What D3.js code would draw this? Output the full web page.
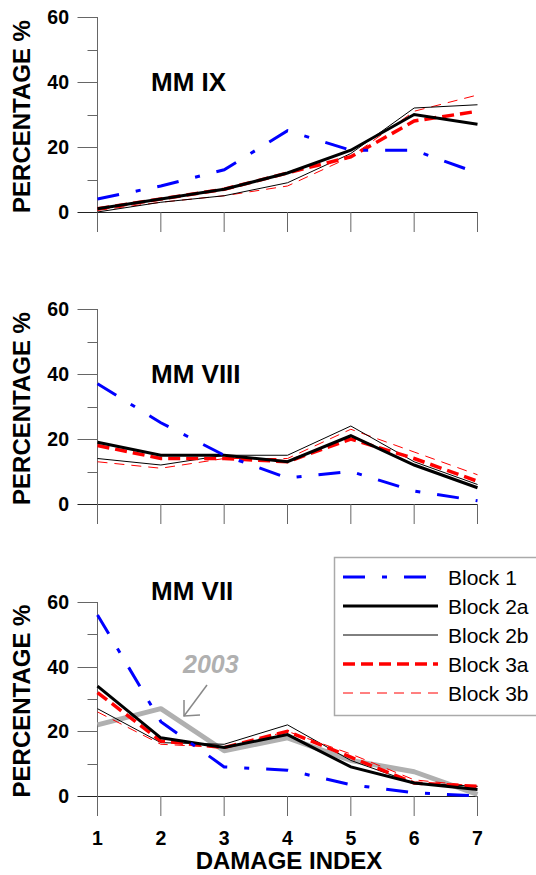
<!DOCTYPE html>
<html>
<head>
<style>
  body { margin: 0; background: #fff; }
  text { font-family: "Liberation Sans", Arial, sans-serif; }
  .panelTitle { font-size: 26px; font-weight: bold; }
  .tickLabel { font-size: 19.5px; font-weight: bold; }
  .axisTitle { font-size: 24px; font-weight: bold; }
  .legendText { font-size: 21px; }
</style>
<script src="https://d3js.org/d3.v7.min.js"></script>
</head>
<body>
<svg width="536" height="875"></svg>
<script>
// x categories and tick values
const damageIndex = [1, 2, 3, 4, 5, 6, 7]
const yMajorTicks = [0, 20, 40, 60]
const yMinorTicks = [10, 30, 50]
const seriesNames = ["Block 1", "Block 2a", "Block 2b", "Block 3a", "Block 3b"]
const panelTitles = ["MM IX", "MM VIII", "MM VII"]

// MM IX
const mm9Block1  = [4, 8, 13, 25, 19, 19, 12]
const mm9Block2a = [1, 4, 7, 12, 19, 30, 27]
const mm9Block2b = [0, 3, 5, 9, 18, 32, 33]
const mm9Block3a = [1, 4, 7, 12, 17, 28, 31]
const mm9Block3b = [0.5, 3, 5, 8, 17, 31, 36]

// MM VIII
const mm8Block1  = [37, 25, 15, 8, 10, 4, 1]
const mm8Block2a = [19, 15, 15, 13, 21, 12, 5]
const mm8Block2b = [14, 12, 15, 15, 24, 13, 6]
const mm8Block3a = [18, 14, 14, 13, 20, 14, 7]
const mm8Block3b = [13, 11, 14, 14, 23, 16, 9]

// MM VII
const mm7Block1  = [56, 23, 9, 8, 3.5, 1, 0]
const mm7Block2a = [34, 18, 15, 19, 9, 4, 2]
const mm7Block2b = [27, 16.5, 16, 22, 11, 4, 3]
const mm7Block3a = [32, 17, 15, 20, 12, 4, 3]
const mm7Block3b = [26, 16, 15, 20, 13, 5, 3]
const mm7Obs2003 = [22, 27, 14, 18, 11, 7.5, 0.5]

const styles = [
  { color: "#0000ff", width: 3, dash: "22,17,5,17" },
  { color: "#000000", width: 3, dash: null },
  { color: "#000000", width: 1, dash: null },
  { color: "#ff0000", width: 3.5, dash: "12,6" },
  { color: "#ff0000", width: 1, dash: "10,7" }
]
const obsColor = "#b0b0b0"
const axisColor = "#666"

const panels = [
  { title: panelTitles[0], y0: 212, y60: 17, series: [mm9Block1, mm9Block2a, mm9Block2b, mm9Block3a, mm9Block3b] },
  { title: panelTitles[1], y0: 504, y60: 309, series: [mm8Block1, mm8Block2a, mm8Block2b, mm8Block3a, mm8Block3b] },
  { title: panelTitles[2], y0: 796, y60: 602, series: [mm7Block1, mm7Block2a, mm7Block2b, mm7Block3a, mm7Block3b], obs: mm7Obs2003 }
]

const svg = d3.select("svg")
const x = d3.scaleLinear().domain([1, 7]).range([97.5, 477.5])

panels.forEach((p, pi) => {
  const y = d3.scaleLinear().domain([0, 60]).range([p.y0, p.y60])
  const g = svg.append("g")

  // y axis line
  g.append("line")
    .attr("x1", x(1)).attr("x2", x(1))
    .attr("y1", y(0)).attr("y2", y(60))
    .attr("stroke", axisColor).attr("stroke-width", 1)
  // x axis line
  g.append("line")
    .attr("x1", x(1)).attr("x2", x(7))
    .attr("y1", y(0) + 0.5).attr("y2", y(0) + 0.5)
    .attr("stroke", "#222").attr("stroke-width", 1)

  g.selectAll(".ymaj").data(yMajorTicks).enter().append("line")
    .attr("x1", x(1) - 20).attr("x2", x(1))
    .attr("y1", d => Math.round(y(d)) + 0.5).attr("y2", d => Math.round(y(d)) + 0.5)
    .attr("stroke", d => d === 0 ? "#222" : axisColor)
  g.selectAll(".ymin").data(yMinorTicks).enter().append("line")
    .attr("x1", x(1) - 10).attr("x2", x(1))
    .attr("y1", d => Math.round(y(d)) + 0.5).attr("y2", d => Math.round(y(d)) + 0.5)
    .attr("stroke", axisColor)
  g.selectAll(".ylab").data(yMajorTicks).enter().append("text")
    .attr("class", "tickLabel")
    .attr("x", 69).attr("y", d => y(d))
    .attr("dy", "0.36em")
    .attr("text-anchor", "end")
    .text(d => d)

  g.selectAll(".xtick").data(damageIndex).enter().append("line")
    .attr("x1", d => x(d)).attr("x2", d => x(d))
    .attr("y1", y(0)).attr("y2", y(0) + 20)
    .attr("stroke", axisColor)

  g.append("text")
    .attr("class", "axisTitle")
    .attr("transform", `translate(30,${(y(0) + y(60)) / 2 + 2}) rotate(-90)`)
    .attr("text-anchor", "middle")
    .text("PERCENTAGE %")

  g.append("text")
    .attr("class", "panelTitle")
    .attr("x", 151).attr("y", y(0) - (pi === 2 ? 196 : 121))
    .text(p.title)

  const line = d3.line().x((d, i) => x(damageIndex[i])).y(d => y(d))

  if (p.obs) {
    g.append("path").datum(p.obs)
      .attr("d", line)
      .attr("fill", "none")
      .attr("stroke", obsColor)
      .attr("stroke-width", 5)
      .attr("stroke-linejoin", "round")
  }

  // draw thin ones first, then thick
  const order = [4, 2, 3, 1, 0]
  order.forEach(si => {
    const s = styles[si]
    g.append("path").datum(p.series[si])
      .attr("d", line)
      .attr("fill", "none")
      .attr("stroke", s.color)
      .attr("stroke-width", s.width)
      .attr("stroke-dasharray", s.dash)
  })

  if (p.obs) {
    g.append("text")
      .attr("x", 183).attr("y", 673)
      .attr("font-size", 25).attr("font-weight", "bold").attr("font-style", "italic")
      .attr("fill", obsColor)
      .text("2003")
    const arrow = g.append("g").attr("stroke", "#888").attr("fill", "none").attr("stroke-width", 1.5)
    arrow.append("line").attr("x1", 207).attr("y1", 685).attr("x2", 184).attr("y2", 716)
    arrow.append("polyline").attr("points", "184,700 184,716 200,715")
  }

  if (pi === 2) {
    g.selectAll(".xlab").data(damageIndex).enter().append("text")
      .attr("class", "tickLabel")
      .attr("x", d => x(d)).attr("y", 845)
      .attr("text-anchor", "middle")
      .text(d => d)
    g.append("text")
      .attr("class", "axisTitle")
      .attr("x", 289).attr("y", 869)
      .attr("text-anchor", "middle")
      .text("DAMAGE INDEX")
  }
})

// legend
const legend = svg.append("g")
legend.append("rect")
  .attr("x", 334.5).attr("y", 557.5).attr("width", 220).attr("height", 158)
  .attr("fill", "#fff").attr("stroke", "#aaa").attr("stroke-width", 1.5)
seriesNames.forEach((name, i) => {
  const s = styles[i]
  const ly = 577 + i * 29
  legend.append("line")
    .attr("x1", 343).attr("x2", 438).attr("y1", ly).attr("y2", ly)
    .attr("stroke", s.color).attr("stroke-width", s.width)
    .attr("stroke-dasharray", s.dash)
  legend.append("text")
    .attr("class", "legendText")
    .attr("x", 448).attr("y", ly).attr("dy", "0.36em")
    .text(name)
})
</script>
</body>
</html>
